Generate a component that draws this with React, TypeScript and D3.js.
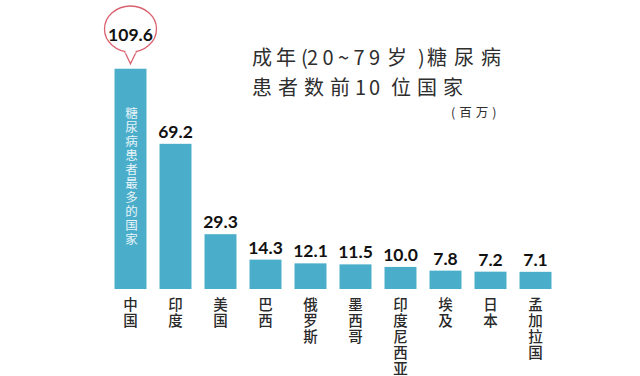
import React from "react";
import * as d3 from "d3";

const categories = ["中国", "印度", "美国", "巴西", "俄罗斯", "墨西哥", "印度尼西亚", "埃及", "日本", "孟加拉国"];
const values = [109.6, 69.2, 29.3, 14.3, 12.1, 11.5, 10.0, 7.8, 7.2, 7.1];
const valueLabels = ["109.6", "69.2", "29.3", "14.3", "12.1", "11.5", "10.0", "7.8", "7.2", "7.1"];
const title1 = ["成年", "(", "20~79", "岁", ")", "糖尿病"];
const title2 = ["患者数前", "10", "位国家"];
const unitLabel = "(百万)";
const innerNote = "糖尿病患者最多的国家";

const W = 640;
const H = 376;
const BAR = "#4aaecb";
const BUBBLE = "#d9606e";
const CJK = "'Noto Sans CJK SC', 'Noto Sans', sans-serif";
const NUM = "Lato, 'Open Sans', sans-serif";

export default function App() {
  const baseline = 289;
  const x = d3.scaleBand<string>().domain(categories).range([108, 558]).paddingInner(0.29).paddingOuter(0.145);
  // the source graphic is not drawn strictly to scale; piecewise-linear scale mimics it
  const h = d3.scaleLinear().domain([0, 7, 30, 70, 110]).range([0, 17, 56, 147, 221]);
  const bw = x.bandwidth();

  const t1x = [252, 301, 307, 387, 418, 427];
  const t1ls = [4, 0, 0, 0, 0, 7];
  const t2x = [252, 355, 391];
  const t2ls = [6, 3, 6];

  return (
    <svg width={W} height={H} style={{ position: "absolute", left: 0, top: 0, background: "#fff" }}>
      <rect x={0} y={0} width={W} height={H} fill="#fff" />
      {/* title */}
      <text y={65} fontFamily={CJK} fontSize={20} fill="#2e2e2e">
        {title1.map((s, k) => (
          <tspan
            key={k}
            x={t1x[k]}
            style={{ letterSpacing: `${t1ls[k]}px` }}
            {...(s === "20~79" ? { textLength: 73, lengthAdjust: "spacing" } : {})}
          >
            {s}
          </tspan>
        ))}
      </text>
      <text y={95} fontFamily={CJK} fontSize={20} fill="#2e2e2e">
        {title2.map((s, k) => (
          <tspan key={k} x={t2x[k]} style={{ letterSpacing: `${t2ls[k]}px` }}>
            {s}
          </tspan>
        ))}
      </text>
      <text x={451} y={117} fontFamily={CJK} fontSize={12.5} fill="#2e2e2e" style={{ letterSpacing: "4px" }}>
        {unitLabel}
      </text>

      {categories.map((c, i) => {
        const v = values[i];
        const bx = x(c)!;
        const top = baseline - h(v);
        const cx = bx + bw / 2;
        return (
          <g key={c}>
            <rect x={bx} y={top} width={bw} height={baseline - top} fill={BAR} />
            {i === 0 ? (
              <g>
                <path
                  d={`M ${cx - 6} ${top - 17.5} L ${cx} ${top - 5} L ${cx + 6} ${top - 17.5}`}
                  fill="#fff"
                  stroke={BUBBLE}
                  strokeWidth={1.3}
                />
                <ellipse cx={cx} cy={29} rx={26} ry={23} fill="#fff" stroke={BUBBLE} strokeWidth={1.3} />
                <rect x={cx - 5} y={49} width={10} height={4.5} fill="#fff" />
                <text x={cx} y={40.5} textAnchor="middle" fontFamily={NUM} fontWeight={700} fontSize={17.5} fill="#111">
                  {valueLabels[i]}
                </text>
              </g>
            ) : (
              <text x={cx} y={top - 6} textAnchor="middle" fontFamily={NUM} fontWeight={700} fontSize={17.5} fill="#111">
                {valueLabels[i]}
              </text>
            )}
            {Array.from(c).map((ch, k) => (
              <text
                key={k}
                x={cx}
                y={309.5 + k * 16}
                textAnchor="middle"
                fontFamily={CJK}
                fontSize={14.5}
                fontWeight={500}
                fill="#2a2a2a"
              >
                {ch}
              </text>
            ))}
            {i === 0 &&
              Array.from(innerNote).map((ch, k) => (
                <text
                  key={"n" + k}
                  x={cx + 1}
                  y={118 + k * 14}
                  textAnchor="middle"
                  fontFamily={CJK}
                  fontSize={12.5}
                  fill="#e8f4f8"
                >
                  {ch}
                </text>
              ))}
          </g>
        );
      })}
    </svg>
  );
}
